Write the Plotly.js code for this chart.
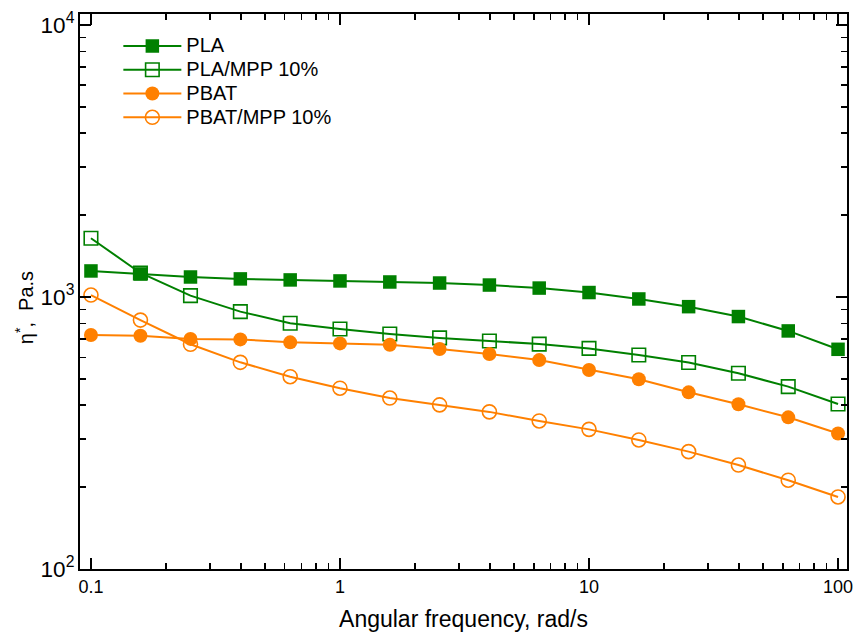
<!DOCTYPE html>
<html>
<head>
<meta charset="utf-8">
<script src="https://cdn.plot.ly/plotly-3.0.1.min.js"></script>
<style>html,body{margin:0;padding:0;background:#fff;}#chart{width:854px;height:635px;}</style>
</head>
<body>
<div id="chart"></div>
<script>
const freq = [0.1, 0.158, 0.251, 0.398, 0.631, 1, 1.585, 2.512, 3.981, 6.31, 10, 15.85, 25.12, 39.81, 63.1, 100];
const pla = [1246, 1215, 1184, 1165, 1155, 1145, 1135, 1125, 1106, 1078, 1038, 983, 921, 847, 750, 642];
const plaMpp = [1644, 1225, 1011, 883, 800, 762, 731, 707, 689, 671, 647, 612, 574, 524, 468, 404];
const pbat = [725, 720, 701, 698, 681, 675, 667, 644, 617, 586, 539, 498, 446, 403, 361, 315];
const pbatMpp = [1016, 822, 670, 575, 509, 462, 425, 401, 378, 350, 326, 298, 270, 241, 212, 184];
const seriesNames = ['PLA', 'PLA/MPP 10%', 'PBAT', 'PBAT/MPP 10%'];
const xTitle = 'Angular frequency, rad/s';
const yTitle = 'η<sup>*</sup>,  Pa.s';

const green = '#008000';
const orange = '#ff8000';
const fontFam = 'Liberation Sans, Arial, sans-serif';

function tr(y, name, color, symbol) {
  const open = symbol.indexOf('open') >= 0;
  return {
    x: freq, y: y, name: '<span style="font-size:20px">' + name + '</span>',
    type: 'scatter', mode: 'lines+markers',
    line: {color: color, width: 2},
    marker: {symbol: symbol, size: symbol.indexOf('square') >= 0 ? 13.5 : 14, color: color,
             line: {color: color, width: open ? 1.6 : 0}}
  };
}

const data = [
  tr(pla, seriesNames[0], green, 'square'),
  tr(plaMpp, seriesNames[1], green, 'square-open'),
  tr(pbat, seriesNames[2], orange, 'circle'),
  tr(pbatMpp, seriesNames[3], orange, 'circle-open')
];

const axisCommon = {
  type: 'log', showline: true, linecolor: '#000', linewidth: 2, mirror: 'allticks',
  ticks: 'inside', ticklen: 11, tickwidth: 1.5, tickcolor: '#000',
  tickmode: 'linear', tick0: 0, dtick: 1, showgrid: false, zeroline: false,
  minor: {ticks: 'inside', ticklen: 6, tickwidth: 1.5, tickcolor: '#000', dtick: 'D1', showgrid: false},
  tickfont: {family: fontFam, size: 18, color: '#000'}
};

const layout = {
  width: 854, height: 635,
  margin: {l: 80, r: 7, t: 14, b: 66},
  paper_bgcolor: '#fff', plot_bgcolor: '#fff',
  font: {family: fontFam, color: '#000'},
  showlegend: true,
  legend: {x: 0.05, y: 0.973, xanchor: 'left', yanchor: 'top', bgcolor: 'rgba(0,0,0,0)',
           font: {size: 16, color: '#000'}, itemwidth: 58, tracegroupgap: 0},
  xaxis: Object.assign({}, axisCommon, {
    range: [-1.044, 2.036], exponentformat: 'none',
    title: {text: xTitle, font: {size: 23, color: '#000'}, standoff: 15}
  }),
  yaxis: Object.assign({}, axisCommon, {
    range: [2, 4.04], exponentformat: 'power'
  }),
  annotations: [{
    text: yTitle, xref: 'paper', yref: 'paper', x: 0, y: 0.47, xanchor: 'center', yanchor: 'middle',
    xshift: -56, textangle: -90, showarrow: false, font: {size: 20, color: '#000', family: fontFam}
  }]
};

Plotly.newPlot('chart', data, layout, {displayModeBar: false, staticPlot: true});
</script>
</body>
</html>
